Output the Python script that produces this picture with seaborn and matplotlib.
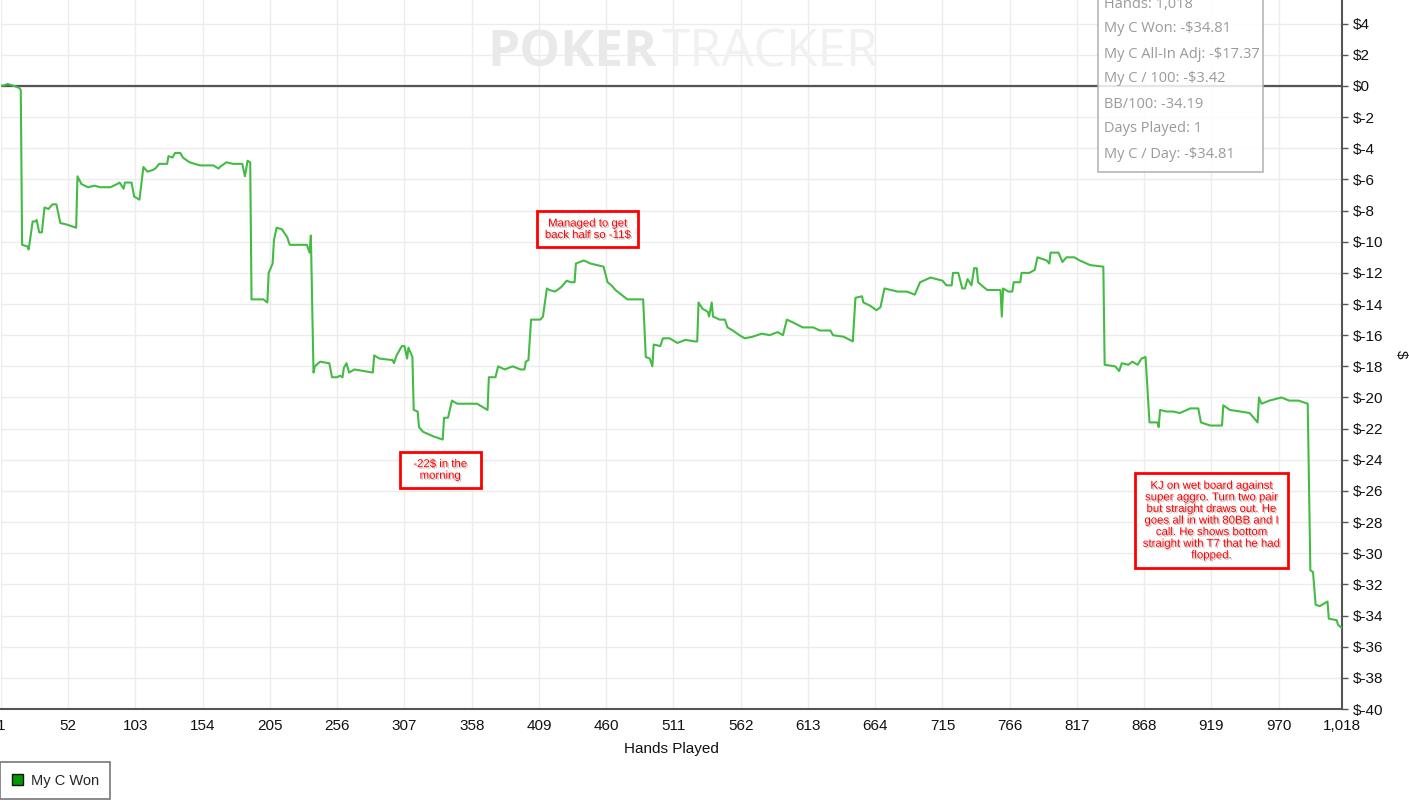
import numpy as np
import pandas as pd
import matplotlib
matplotlib.use("Agg")
import matplotlib.pyplot as plt
import matplotlib.patheffects as pe
from matplotlib.patches import Rectangle, Patch
import seaborn as sns

# cumulative winnings (hand number, dollars)
hands = [1, 4, 6, 11, 15, 16, 17, 21, 22, 25, 27, 28, 30, 32, 34, 37, 40, 43, 46, 51,
         58, 59, 62, 67, 72, 76, 84, 89, 91, 94, 95, 100, 102, 106, 109, 112, 116, 118, 121, 127,
         128, 131, 133, 137, 139, 144, 152, 158, 162, 166, 167, 172, 177, 184, 186, 188, 190, 191, 200, 203,
         204, 207, 208, 210, 214, 218, 220, 233, 235, 236, 238, 239, 243, 250, 252, 256, 258, 260, 261, 263,
         265, 269, 283, 284, 288, 298, 299, 301, 305, 307, 309, 310, 313, 314, 317, 318, 321, 329, 336, 337,
         340, 343, 347, 354, 362, 370, 371, 376, 378, 383, 389, 395, 398, 399, 401, 403, 410, 412, 415, 417,
         421, 423, 426, 430, 433, 436, 437, 443, 448, 453, 458, 461, 464, 467, 470, 476, 488, 490, 493, 495,
         496, 501, 503, 508, 514, 520, 527, 529, 530, 533, 537, 538, 540, 541, 546, 550, 552, 556, 561, 565,
         571, 578, 584, 590, 594, 597, 602, 609, 617, 622, 630, 632, 640, 647, 649, 654, 655, 660, 665, 668,
         671, 681, 688, 694, 698, 706, 715, 718, 722, 723, 727, 730, 732, 734, 737, 739, 741, 742, 746, 749,
         759, 760, 761, 765, 768, 769, 774, 775, 781, 785, 787, 794, 796, 797, 803, 806, 809, 815, 819, 827,
         837, 838, 846, 849, 851, 856, 859, 863, 866, 869, 872, 878, 879, 880, 885, 890, 895, 903, 909, 911,
         918, 927, 928, 933, 941, 948, 954, 955, 957, 963, 972, 978, 985, 992, 994, 996, 998, 1001, 1007, 1008,
         1014, 1015, 1018]
won = [0.00, 0.06, 0.13, 0.00, -0.13, -0.26, -10.2, -10.3, -10.5, -8.7, -8.7, -8.6, -9.4, -9.4, -7.8, -7.9, -7.6, -7.6, -8.8, -8.9,
       -9.1, -5.8, -6.3, -6.5, -6.4, -6.5, -6.5, -6.3, -6.2, -6.6, -6.2, -6.2, -7.1, -7.3, -5.2, -5.5, -5.4, -5.3, -5.0, -5.0,
       -4.5, -4.6, -4.3, -4.3, -4.6, -4.9, -5.1, -5.1, -5.1, -5.3, -5.2, -4.9, -5.0, -5.0, -5.8, -4.8, -4.9, -13.7, -13.7, -13.9,
       -12.0, -11.4, -9.9, -9.1, -9.2, -9.7, -10.2, -10.2, -10.7, -9.6, -18.4, -18.0, -17.7, -17.8, -18.7, -18.7, -18.6, -18.7, -18.1, -17.8,
       -18.4, -18.2, -18.4, -17.3, -17.5, -17.6, -17.8, -17.3, -16.7, -16.7, -17.5, -16.8, -17.4, -20.8, -20.9, -21.9, -22.2, -22.5, -22.7, -21.3,
       -21.3, -20.2, -20.4, -20.4, -20.4, -20.8, -18.7, -18.7, -18.0, -18.2, -18.0, -18.2, -18.2, -17.7, -17.6, -15.0, -15.0, -14.8, -13.0, -13.1,
       -13.2, -13.1, -12.9, -12.5, -12.6, -12.6, -11.4, -11.2, -11.4, -11.5, -11.6, -12.6, -12.8, -13.1, -13.3, -13.7, -13.7, -17.4, -17.5, -18.0,
       -16.6, -16.7, -16.2, -16.2, -16.5, -16.3, -16.4, -16.4, -13.9, -14.3, -14.5, -14.8, -13.9, -14.8, -15.0, -15.0, -15.5, -15.7, -16.0, -16.2,
       -16.1, -15.9, -16.0, -15.8, -16.0, -15.0, -15.2, -15.5, -15.5, -15.7, -15.7, -16.0, -16.1, -16.4, -13.6, -13.5, -13.9, -14.1, -14.4, -14.2,
       -13.0, -13.2, -13.2, -13.4, -12.6, -12.3, -12.5, -12.8, -12.8, -12.0, -12.0, -13.0, -13.0, -12.4, -12.8, -11.7, -11.7, -12.6, -12.9, -13.1,
       -13.1, -14.8, -13.0, -13.2, -13.2, -12.6, -12.6, -12.0, -12.0, -11.8, -11.0, -11.2, -11.4, -10.7, -10.7, -11.3, -11.0, -11.0, -11.2, -11.5,
       -11.6, -17.9, -18.0, -18.3, -17.8, -17.9, -17.7, -17.9, -17.5, -17.4, -21.6, -21.6, -21.9, -20.8, -20.9, -20.9, -21.0, -20.7, -20.7, -21.6,
       -21.8, -21.8, -20.5, -20.8, -20.9, -21.0, -21.6, -20.0, -20.4, -20.2, -20.0, -20.2, -20.2, -20.4, -31.1, -31.2, -33.3, -33.4, -33.1, -34.2,
       -34.3, -34.6, -34.81]

x_ticks = [1, 52, 103, 154, 205, 256, 307, 358, 409, 460, 511, 562, 613, 664, 715, 766, 817, 868, 919, 970, 1018]
y_ticks = list(range(-40, 5, 2))

stats_lines = ["Hands: 1,018", "My C Won: -$34.81", "My C All-In Adj: -$17.37", "My C / 100: -$3.42",
               "BB/100: -34.19", "Days Played: 1", "My C / Day: -$34.81"]

notes = ["Managed to get\nback half so -11$",
         "  -22$ in the  \n  morning  ",
         "KJ on wet board against\nsuper aggro. Turn two pair\nbut straight draws out. He\n"
         "goes all in with 80BB and I\ncall. He shows bottom\nstraight with T7 that he had\nflopped."]
note_hands = [446, 334, 919]
note_vals = [-9.2, -24.65, -27.9]

df = pd.DataFrame({"Hands Played": hands, "My C Won": won})

sns.set_style("white")
plt.rcParams["font.family"] = ["Liberation Sans", "DejaVu Sans"]

W, H = 1409, 810
fig = plt.figure(figsize=(W / 100, H / 100), dpi=100)
ax = fig.add_axes([1 / W, (H - 709) / H, 1341 / W, 709 / H])

sns.lineplot(data=df, x="Hands Played", y="My C Won", ax=ax, color="#44bb44", linewidth=1.5, zorder=3)
ax.axhline(0, color="#555555", linewidth=1.6, zorder=2)

ax.set_xlim(1, 1018)
ax.set_ylim(-40, 5.52)
ax.set_xticks(x_ticks)
ax.set_xticklabels([f"{t:,}" for t in x_ticks])
ax.set_yticks(y_ticks)
ax.set_yticklabels([f"${t}" for t in y_ticks])
ax.yaxis.tick_right()
ax.yaxis.set_label_position("right")
ax.grid(True, color="#ececec", linewidth=1)
ax.tick_params(axis="both", labelsize=11, length=4, width=1, direction="out",
               colors="#555555", labelcolor="#111111")
for side in ["top", "left"]:
    ax.spines[side].set_visible(False)
for side in ["bottom", "right"]:
    ax.spines[side].set_color("#555555")
    ax.spines[side].set_linewidth(1.5)
ax.set_xlabel("Hands Played", fontsize=11, color="#111111", labelpad=6)
ax.set_ylabel("$", fontsize=11, color="#111111", rotation=270, labelpad=18)

# watermark
fig.text(487 / W, 1 - 53 / H, "POKER", fontsize=37, fontweight="bold", color="#e9e9e9",
         va="center", ha="left", family="Open Sans", zorder=0)
fig.text(662 / W, 1 - 53 / H, "TRACKER", fontsize=37, color="#f1f1f1",
         va="center", ha="left", family="Open Sans", zorder=0)

# annotation boxes
for txt, hx, vy in zip(notes, note_hands, note_vals):
    ax.text(hx, vy, txt, fontsize=8.2, color="#ff0000", ha="center", va="center", linespacing=1.2,
            path_effects=[pe.withSimplePatchShadow(offset=(1, -1), shadow_rgbFace="#aaaaaa", alpha=0.7)],
            bbox=dict(boxstyle="square,pad=0.65", facecolor="white", edgecolor="#ff0000", linewidth=2),
            zorder=5)

# stats box in the top right corner
box = Rectangle((1098 / W, 1 - 172 / H), (1263 - 1098) / W, 200 / H, transform=fig.transFigure,
                facecolor="white", edgecolor="#aaaaaa", linewidth=1.2, alpha=0.85, zorder=6)
fig.patches.append(box)
for i, line in enumerate(stats_lines):
    fig.text(1104 / W, 1 - (4 + 25 * i) / H, line, fontsize=10.5, color="#9a9a9a",
             family="Open Sans", va="center", ha="left", zorder=7)

# legend
handle = Patch(facecolor="#009900", edgecolor="#111111", label="My C Won")
leg = fig.legend(handles=[handle], loc="upper left", bbox_to_anchor=(0, 1 - 762 / H),
                 frameon=True, fancybox=False, fontsize=10.5, handlelength=0.8, handleheight=0.8,
                 handletextpad=0.5, borderpad=0.8, borderaxespad=0)
leg.get_frame().set_edgecolor("#555555")
leg.get_frame().set_linewidth(1.2)

fig.savefig("out.png", dpi=100)
